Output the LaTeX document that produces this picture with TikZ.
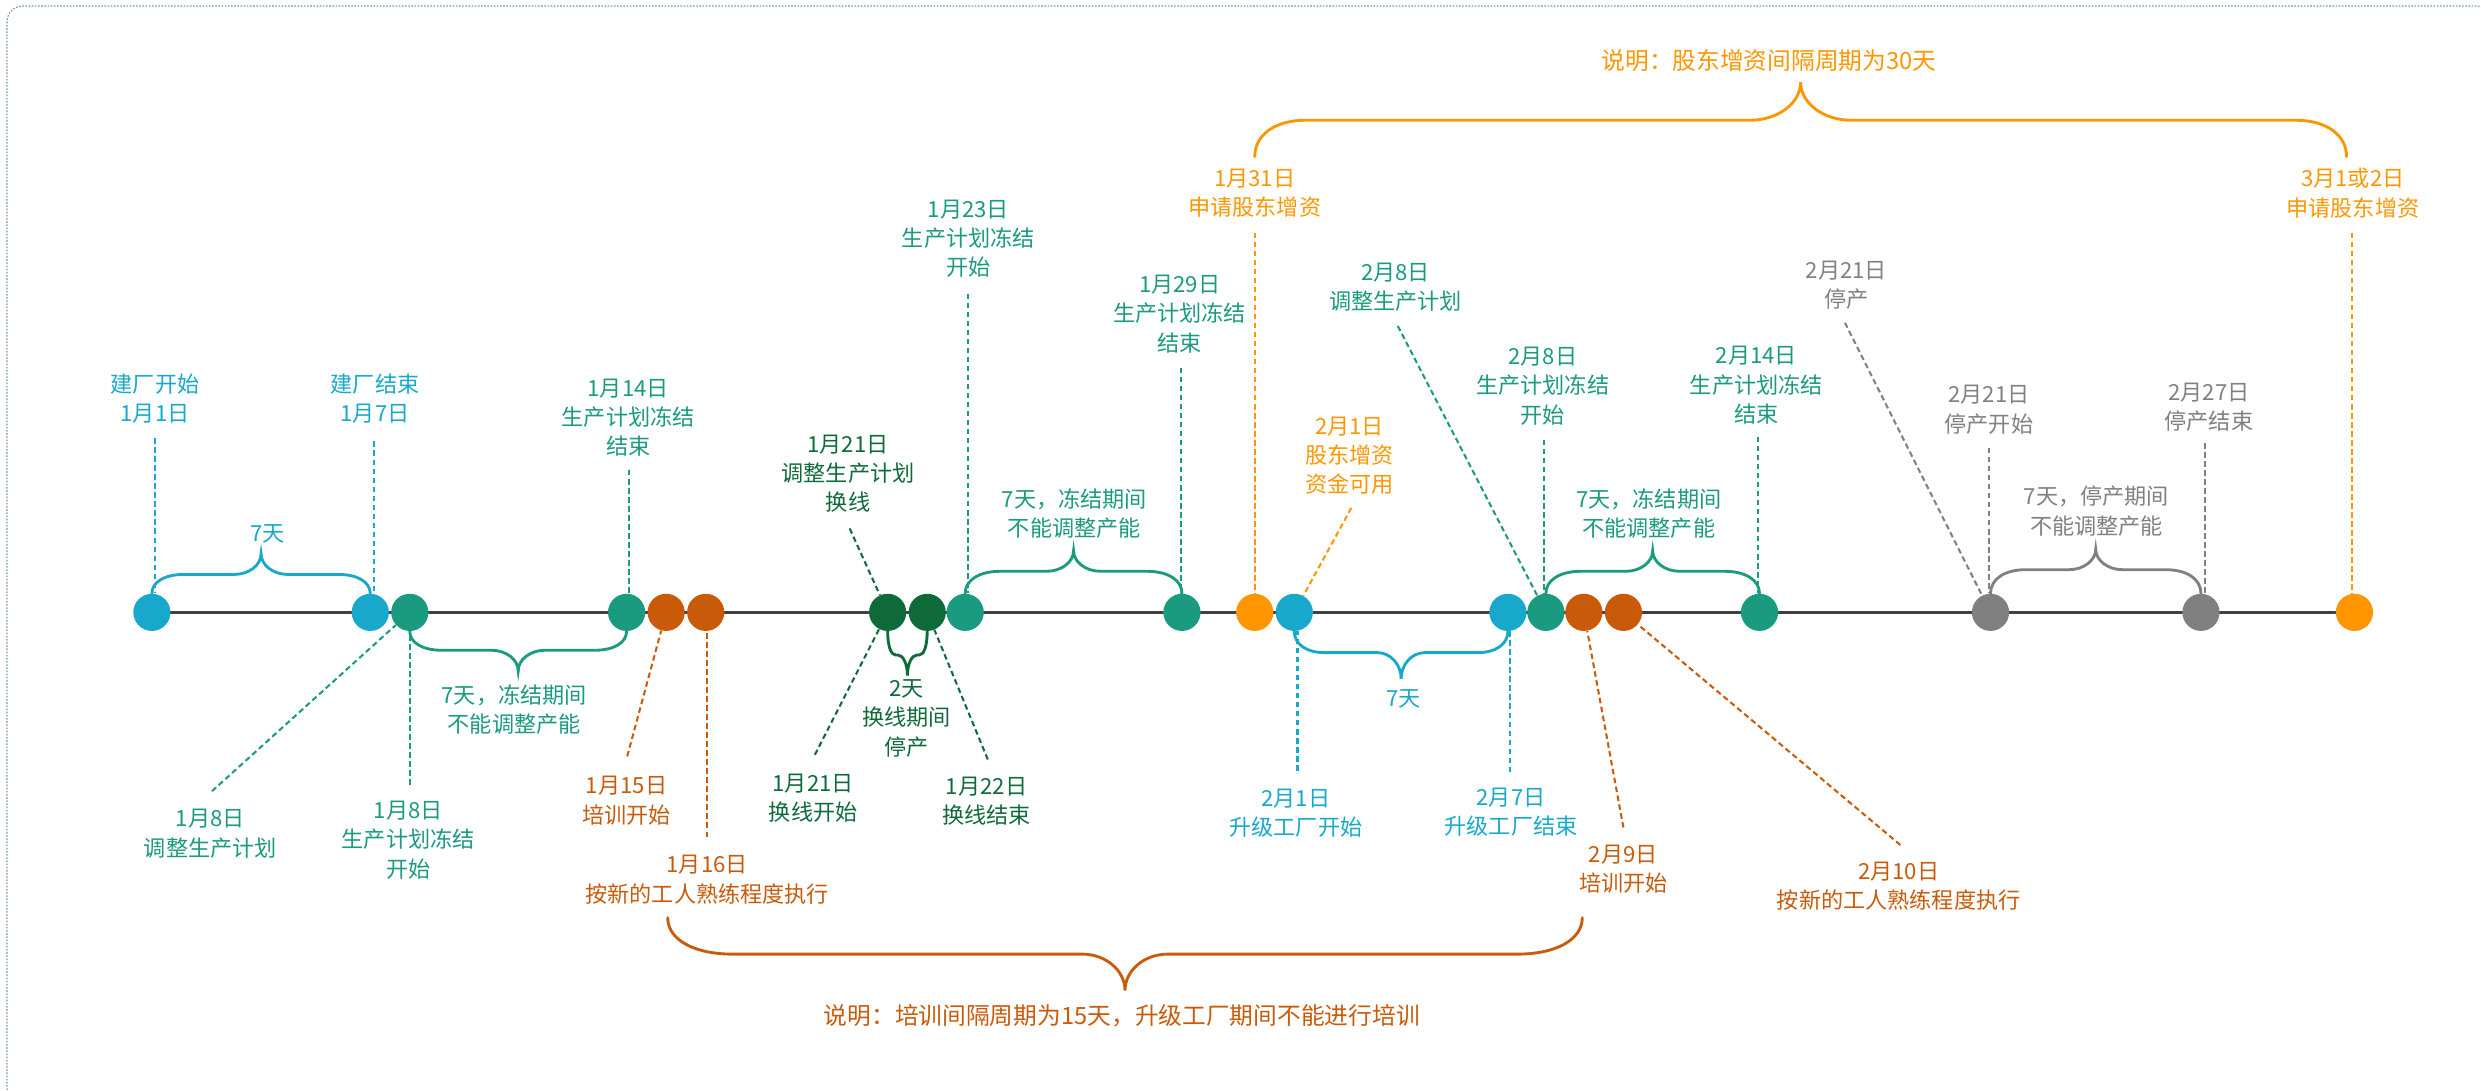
\documentclass[tikz,border=0pt]{standalone}
\usepackage{fontspec}
\setmainfont{Noto Sans CJK SC}
\usetikzlibrary{backgrounds,calc}
\definecolor{ccyan}{HTML}{17A8CC}
\definecolor{cteal}{HTML}{1A9A7F}
\definecolor{cdgreen}{HTML}{0F6A3A}
\definecolor{cored}{HTML}{C95A0A}
\definecolor{corange}{HTML}{FF9600}
\definecolor{cgray}{HTML}{808080}
\definecolor{tlgray}{HTML}{404040}
\definecolor{frame}{HTML}{6E96B4}
\tikzset{
  tldot/.style={circle, inner sep=0pt, minimum size=23.5pt, fill=#1, draw=none},
  lbl/.style={align=center, inner sep=0pt, text=#1, font=\fontsize{14}{18.5}\selectfont},
  note/.style={inner sep=0pt, text=#1, font=\fontsize{15}{18}\selectfont},
  lead/.style={draw=#1, line width=1.3pt, dash pattern=on 3.5pt off 2.2pt},
  brc/.style={draw=#1, line width=1.8pt, line cap=round},
  tlline/.style={draw=tlgray, line width=1.6pt},
}
% brace: #1 colour, #2 start, #3 end, #4 flat offset, #5 tip offset, #6 end radius, #7 mid radius
\newcommand{\tlbrace}[7]{%
  \draw[brc=#1] let \p1=(#2), \p2=(#3), \n1={0.5*(\x1+\x2)} in
    ({\x1},{\y1}) .. controls ({\x1},{\y1+0.6*(#4)}) and ({\x1+0.4*(#6)},{\y1+(#4)}) .. ({\x1+(#6)},{\y1+(#4)})
    -- ({\n1-(#7)},{\y1+(#4)})
    .. controls ({\n1-0.45*(#7)},{\y1+(#4)}) and ({\n1},{\y1+0.55*(#4)+0.45*(#5)}) .. ({\n1},{\y1+(#5)})
    .. controls ({\n1},{\y1+0.55*(#4)+0.45*(#5)}) and ({\n1+0.45*(#7)},{\y1+(#4)}) .. ({\n1+(#7)},{\y1+(#4)})
    -- ({\x2-(#6)},{\y1+(#4)})
    .. controls ({\x2-0.4*(#6)},{\y1+(#4)}) and ({\x2},{\y2+0.6*(#4)}) .. ({\x2},{\y2});
}
\begin{document}
\begin{tikzpicture}[x=1pt,y=-1pt]
\useasboundingbox (0,0) rectangle (1568,689);
\draw[frame, line width=0.7pt, dash pattern=on 1pt off 1pt, rounded corners=10pt] (4.4,3.8) rectangle (1575,697);

% timeline circles
\node[tldot=ccyan]   (c1)  at (96,387) {};
\node[tldot=ccyan]   (c2)  at (234,387) {};
\node[tldot=cteal]   (c3)  at (259,387) {};
\node[tldot=cteal]   (c4)  at (396,387) {};
\node[tldot=cored]   (c5)  at (421,387) {};
\node[tldot=cored]   (c6)  at (446,387) {};
\node[tldot=cdgreen] (c7)  at (561,387) {};
\node[tldot=cdgreen] (c8)  at (586,387) {};
\node[tldot=cteal]   (c9)  at (610,387) {};
\node[tldot=cteal]   (c10) at (747,387) {};
\node[tldot=corange] (c11) at (793,387) {};
\node[tldot=ccyan]   (c12) at (818,387) {};
\node[tldot=ccyan]   (c13) at (953,387) {};
\node[tldot=cteal]   (c14) at (977,387) {};
\node[tldot=cored]   (c15) at (1001,387) {};
\node[tldot=cored]   (c16) at (1026,387) {};
\node[tldot=cteal]   (c17) at (1112,387) {};
\node[tldot=cgray]   (c18) at (1258,387) {};
\node[tldot=cgray]   (c19) at (1391,387) {};
\node[tldot=corange] (c20) at (1488,387) {};
\begin{scope}[on background layer]
  \draw[tlline] (c1.center) -- (c20.center);
\end{scope}

% labels
\node[lbl=ccyan]   (t1)  at (98,252)    {建厂开始\\1月1日};
\node[lbl=ccyan]   (t2)  at (237,252)   {建厂结束\\1月7日};
\node[lbl=cteal]   (t3)  at (397,264)   {1月14日\\生产计划冻结\\结束};
\node[lbl=cteal]   (t4)  at (133,527)   {1月8日\\调整生产计划};
\node[lbl=cteal]   (t5)  at (258,531)   {1月8日\\生产计划冻结\\开始};
\node[lbl=cored]   (t6)  at (396,506)   {1月15日\\培训开始};
\node[lbl=cored]   (t7)  at (447,556)   {1月16日\\按新的工人熟练程度执行};
\node[lbl=cdgreen] (t8)  at (536,299.5) {1月21日\\调整生产计划\\换线};
\node[lbl=cdgreen] (t9)  at (514,504.5) {1月21日\\换线开始};
\node[lbl=cdgreen] (t10) at (623.5,506.5) {1月22日\\换线结束};
\node[lbl=cdgreen] (t11) at (573,454)   {2天\\换线期间\\停产};
\node[lbl=cteal]   (t12) at (612,151)   {1月23日\\生产计划冻结\\开始};
\node[lbl=cteal]   (t13) at (745.5,198.5) {1月29日\\生产计划冻结\\结束};
\node[lbl=cteal]   (t14) at (679,324.5) {7天，冻结期间\\不能调整产能};
\node[lbl=ccyan]   (t15) at (169,337.5) {7天};
\node[lbl=cteal]   (t16) at (325,448.5) {7天，冻结期间\\不能调整产能};
\node[lbl=corange] (t17) at (793,122)   {1月31日\\申请股东增资};
\node[lbl=corange] (t18) at (853,288)   {2月1日\\股东增资\\资金可用};
\node[lbl=ccyan]   (t19) at (819,514)   {2月1日\\升级工厂开始};
\node[lbl=ccyan]   (t20) at (887,442)   {7天};
\node[lbl=ccyan]   (t21) at (955,513.5) {2月7日\\升级工厂结束};
\node[lbl=cteal]   (t22) at (882,181.5) {2月8日\\调整生产计划};
\node[lbl=cteal]   (t23) at (975,244)   {2月8日\\生产计划冻结\\开始};
\node[lbl=cteal]   (t24) at (1042,324.5) {7天，冻结期间\\不能调整产能};
\node[lbl=cored]   (t25) at (1026,549.5) {2月9日\\培训开始};
\node[lbl=cored]   (t26) at (1200,560)  {2月10日\\按新的工人熟练程度执行};
\node[lbl=cteal]   (t27) at (1110,243.5) {2月14日\\生产计划冻结\\结束};
\node[lbl=cgray]   (t28) at (1167,180.5) {2月21日\\停产};
\node[lbl=cgray]   (t29) at (1257,259)  {2月21日\\停产开始};
\node[lbl=cgray]   (t30) at (1325,323)  {7天，停产期间\\不能调整产能};
\node[lbl=cgray]   (t31) at (1396,257.5) {2月27日\\停产结束};
\node[lbl=corange] (t32) at (1487,122)  {3月1或2日\\申请股东增资};
\node[note=corange] (t33) at (1118,38)  {说明：股东增资间隔周期为30天};
\node[note=cored]   (t34) at (709,642)  {说明：培训间隔周期为15天，升级工厂期间不能进行培训};

% leader start points
\coordinate (a1)  at (98,277);
\coordinate (a2)  at (236.5,279);
\coordinate (a3)  at (397.8,297);
\coordinate (a4)  at (259,496);
\coordinate (a5)  at (446.7,529);
\coordinate (a6)  at (612,185.5);
\coordinate (a7)  at (746.5,232.4);
\coordinate (a8)  at (793,147);
\coordinate (a9)  at (820,487);
\coordinate (a10) at (954.3,488);
\coordinate (a11) at (975.6,278);
\coordinate (a12) at (1111,276);
\coordinate (a13) at (1257,283);
\coordinate (a14) at (1393.6,280);
\coordinate (a15) at (1486.5,147);
\coordinate (d1)  at (134,500);
\coordinate (d2)  at (396.4,478);
\coordinate (d3)  at (537,334);
\coordinate (d4)  at (515,477);
\coordinate (d5)  at (624.3,480);
\coordinate (d6)  at (854,321);
\coordinate (d7)  at (883.4,206);
\coordinate (d8)  at (1026,523);
\coordinate (d9)  at (1201,534);
\coordinate (d10) at (1166,204);

% vertical leaders
\draw[lead=ccyan]   (a1)  -- (a1 |- c1.north);
\draw[lead=ccyan]   (a2)  -- (a2 |- c2.north);
\draw[lead=cteal]   (a3)  -- (a3 |- c4.north);
\draw[lead=cteal]   (a4)  -- (a4 |- c3.south);
\draw[lead=cored]   (a5)  -- (a5 |- c6.south);
\draw[lead=cteal]   (a6)  -- (a6 |- c9.north);
\draw[lead=cteal]   (a7)  -- (a7 |- c10.north);
\draw[lead=corange] (a8)  -- (a8 |- c11.north);
\draw[lead=ccyan]   (a9)  -- (a9 |- c12.south);
\draw[lead=ccyan]   (a10) -- (a10 |- c13.south);
\draw[lead=cteal]   (a11) -- (a11 |- c14.north);
\draw[lead=cteal]   (a12) -- (a12 |- c17.north);
\draw[lead=cgray]   (a13) -- (a13 |- c18.north);
\draw[lead=cgray]   (a14) -- (a14 |- c19.north);
\draw[lead=corange] (a15) -- (a15 |- c20.north);
% diagonal leaders
\draw[lead=cteal]   (d1)  -- (c3);
\draw[lead=cored]   (d2)  -- (c5);
\draw[lead=cdgreen] (d3)  -- (c7);
\draw[lead=cdgreen] (d4)  -- (c7);
\draw[lead=cdgreen] (d5)  -- (c8);
\draw[lead=corange] (d6)  -- (c12);
\draw[lead=cteal]   (d7)  -- (c14);
\draw[lead=cored]   (d8)  -- (c15);
\draw[lead=cored]   (d9)  -- (c16);
\draw[lead=cgray]   (d10) -- (c18);

% braces
\coordinate (ob1) at (793,99);
\coordinate (ob2) at (1483,99);
\coordinate (rb1) at (422,580);
\coordinate (rb2) at (1000,580);
\tlbrace{ccyan}{c1.north}{c2.north}{12pt}{25pt}{20pt}{17pt}
\tlbrace{cteal}{c3.south}{c4.south}{-12pt}{-25pt}{20pt}{17pt}
\tlbrace{cdgreen}{c7.south}{c8.south}{-15pt}{-28pt}{5pt}{6pt}
\tlbrace{cteal}{c9.north}{c10.north}{14pt}{27pt}{22pt}{17pt}
\tlbrace{ccyan}{c12.south}{c13.south}{-13.5pt}{-30pt}{19pt}{15pt}
\tlbrace{cteal}{c14.north}{c17.north}{14pt}{27pt}{22pt}{17pt}
\tlbrace{cgray}{c18.north}{c19.north}{15pt}{28pt}{22pt}{17pt}
\tlbrace{corange}{ob1}{ob2}{23pt}{47pt}{32pt}{32pt}
\tlbrace{cored}{rb1}{rb2}{-23pt}{-46pt}{41pt}{27pt}
\end{tikzpicture}
\end{document}
